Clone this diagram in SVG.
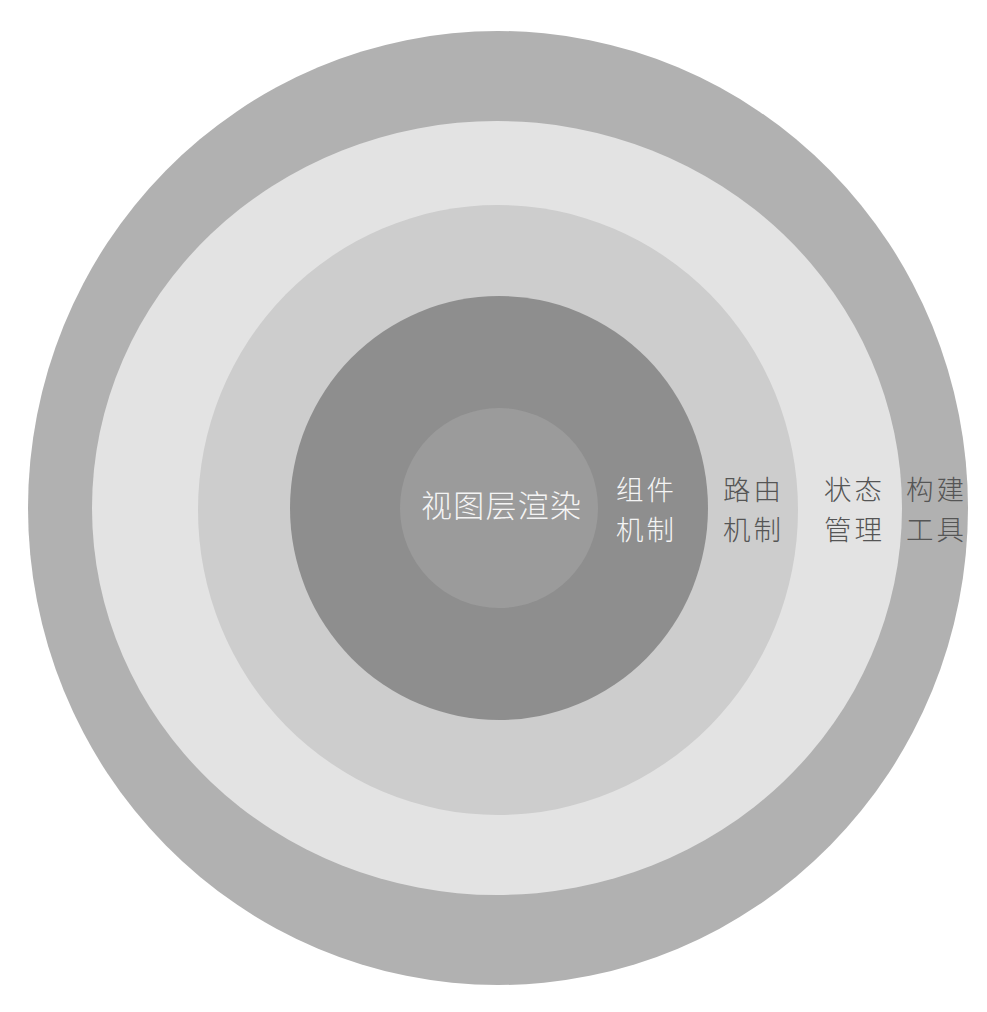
<svg xmlns="http://www.w3.org/2000/svg" width="987" height="1012" viewBox="0 0 987 1012">
  <style>
    .lbl { font-family: "Noto Sans CJK SC", "Noto Sans", sans-serif; font-size: 27.5px; font-weight: 300; letter-spacing: 3px; }
    .big { font-size: 31px; letter-spacing: 0; }
    .light { fill: #f4f4f4; }
    .dark { fill: #555555; }
  </style>
  <rect x="0" y="0" width="987" height="1012" fill="#ffffff"/>
  <g id="ring-build-tools">
    <ellipse cx="498" cy="508" rx="470" ry="477" fill="#b1b1b1"/>
  </g>
  <g id="ring-state-management">
    <ellipse cx="497" cy="508" rx="405" ry="387" fill="#e3e3e3"/>
  </g>
  <g id="ring-routing">
    <ellipse cx="498" cy="510" rx="300" ry="305" fill="#cdcdcd"/>
  </g>
  <g id="ring-components">
    <ellipse cx="499" cy="508" rx="209" ry="212" fill="#8e8e8e"/>
  </g>
  <g id="core-view-rendering">
    <ellipse cx="499" cy="508" rx="99" ry="100" fill="#9b9b9b"/>
  </g>
  <g id="connectors"/>
  <g id="labels">
    <text class="lbl big light" x="421" y="517" textLength="160" lengthAdjust="spacing">视图层渲染</text>
    <text class="lbl light" x="616" y="500">组件</text>
    <text class="lbl light" x="616" y="540">机制</text>
    <text class="lbl dark" x="723" y="500">路由</text>
    <text class="lbl dark" x="723" y="540">机制</text>
    <text class="lbl dark" x="824" y="500">状态</text>
    <text class="lbl dark" x="824" y="540">管理</text>
    <text class="lbl dark" x="906" y="500">构建</text>
    <text class="lbl dark" x="906" y="540">工具</text>
  </g>
</svg>
